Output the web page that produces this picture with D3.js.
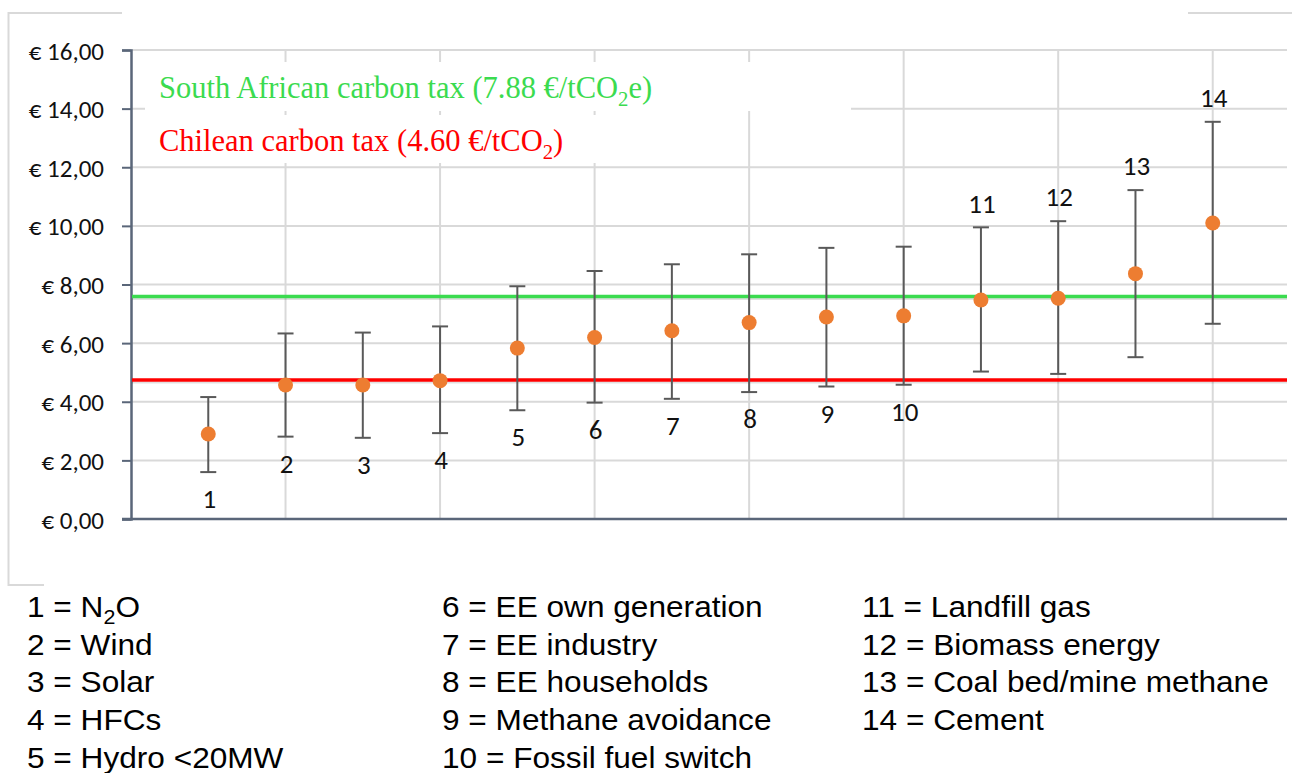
<!DOCTYPE html>
<html>
<head>
<meta charset="utf-8">
<script src="https://cdn.jsdelivr.net/npm/d3@7"></script>
<style>
  body { margin: 0; background: #fff; }
  svg { display: block; }
</style>
</head>
<body>
<svg id="chart" width="1292" height="773"></svg>
<script>
// project types, numbered 1..14 on the chart
var ids = [1, 2, 3, 4, 5, 6, 7, 8, 9, 10, 11, 12, 13, 14];
var categories = ["N₂O", "Wind", "Solar", "HFCs", "Hydro <20MW",
  "EE own generation", "EE industry", "EE households", "Methane avoidance", "Fossil fuel switch",
  "Landfill gas", "Biomass energy", "Coal bed/mine methane", "Cement"];

// central estimate and range (€/tCO2e)
var midValues = [2.90, 4.57, 4.57, 4.72, 5.83, 6.19, 6.42, 6.70, 6.89, 6.93, 7.47, 7.53, 8.37, 10.10];
var lowValues = [1.60, 2.81, 2.77, 2.93, 3.71, 3.97, 4.10, 4.33, 4.52, 4.58, 5.03, 4.95, 5.52, 6.66];
var highValues = [4.16, 6.33, 6.36, 6.57, 7.94, 8.46, 8.69, 9.03, 9.25, 9.29, 9.95, 10.16, 11.22, 13.55];
var labelSide = ["below", "below", "below", "below", "below", "below", "below", "below", "below", "below",
  "above", "above", "above", "above"];

// carbon tax reference lines
var taxLabels = ["South African carbon tax (7.88 €/tCO₂e)", "Chilean carbon tax (4.60 €/tCO₂)"];
var taxValues = [7.59, 4.74];
var taxColors = ["#3bdb4f", "#ff0000"];

var yTicks = [0, 2, 4, 6, 8, 10, 12, 14, 16];
var xGrid = [2, 4, 6, 8, 10, 12, 14];

var svg = d3.select("#chart");

var x = d3.scaleLinear().domain([0, 15]).range([131, 1290]);
var y = d3.scaleLinear().domain([0, 16]).range([519, 50]);
var plotRight = 1287;

// text with "₂" drawn as a real subscript
function richText(sel, str, size) {
  var parts = str.split("₂");
  parts.forEach(function (p, i) {
    if (i > 0) {
      sel.append("tspan").attr("dy", size * 0.25).attr("font-size", size * 0.68).text("2");
      sel.append("tspan").attr("dy", -size * 0.25).text(p);
    } else {
      sel.append("tspan").text(p);
    }
  });
}

// outer chart frame (partly hidden by other boxes in the original)
svg.append("rect")
  .attr("x", 8.5).attr("y", 13).attr("width", 1400).attr("height", 572)
  .attr("fill", "none").attr("stroke", "#d9d9d9").attr("stroke-width", 2);
svg.append("rect").attr("x", 122).attr("y", 0).attr("width", 1066).attr("height", 30).attr("fill", "#fff");

// gridlines
svg.append("g").selectAll("line").data(yTicks.slice(1)).join("line")
  .attr("x1", x(0)).attr("x2", plotRight)
  .attr("y1", function (d) { return y(d); }).attr("y2", function (d) { return y(d); })
  .attr("stroke", "#d9d9d9").attr("stroke-width", 2);
svg.append("g").selectAll("line").data(xGrid).join("line")
  .attr("x1", function (d) { return x(d); }).attr("x2", function (d) { return x(d); })
  .attr("y1", y(16)).attr("y2", y(0))
  .attr("stroke", "#d9d9d9").attr("stroke-width", 2);

// annotation boxes (white backgrounds hide the grid behind the text)
svg.append("rect").attr("x", 145).attr("y", 62).attr("width", 706).attr("height", 49).attr("fill", "#fff");
svg.append("rect").attr("x", 145).attr("y", 115).attr("width", 520).attr("height", 48).attr("fill", "#fff");
var taxTextY = [98, 151];
taxLabels.forEach(function (t, i) {
  var txt = svg.append("text")
    .attr("x", 159).attr("y", taxTextY[i])
    .attr("font-family", "'Liberation Serif', 'Times New Roman', serif")
    .attr("font-size", 30.5)
    .attr("fill", taxColors[i]);
  richText(txt, t, 30.5);
});

// axes
var yAxis = d3.axisLeft(y).tickValues(yTicks).tickSize(9)
  .tickFormat(function (d) { return "€ " + d3.format(".2f")(d).replace(".", ","); });
var gy = svg.append("g").attr("transform", "translate(" + x(0) + ",0)").call(yAxis);
gy.select(".domain").attr("stroke", "#5a6679").attr("stroke-width", 2.5);
gy.selectAll(".tick line").attr("stroke", "#5a6679").attr("stroke-width", 2);
gy.selectAll(".tick text")
  .attr("x", -27).attr("dy", "0.36em")
  .attr("font-family", "Carlito, Calibri, Lato, sans-serif")
  .attr("font-size", 25).attr("fill", "#111");

svg.append("line")
  .attr("x1", x(0) - 9).attr("x2", plotRight)
  .attr("y1", y(0)).attr("y2", y(0))
  .attr("stroke", "#5a6679").attr("stroke-width", 2.5);

// tax lines with a soft shadow
taxValues.forEach(function (v, i) {
  svg.append("line")
    .attr("x1", x(0) + 1).attr("x2", plotRight)
    .attr("y1", y(v) + 2.5).attr("y2", y(v) + 2.5)
    .attr("stroke", "#000").attr("stroke-opacity", 0.12).attr("stroke-width", 2);
  svg.append("line")
    .attr("x1", x(0) + 1).attr("x2", plotRight)
    .attr("y1", y(v)).attr("y2", y(v))
    .attr("stroke", taxColors[i]).attr("stroke-width", 3.5);
});

// error bars
var bars = svg.append("g").selectAll("g").data(ids).join("g");
bars.append("line")
  .attr("x1", function (d, i) { return x(d); }).attr("x2", function (d, i) { return x(d); })
  .attr("y1", function (d, i) { return y(lowValues[i]); })
  .attr("y2", function (d, i) { return y(highValues[i]); })
  .attr("stroke", "#595959").attr("stroke-width", 2);
bars.append("line")
  .attr("x1", function (d) { return x(d) - 8; }).attr("x2", function (d) { return x(d) + 8; })
  .attr("y1", function (d, i) { return y(lowValues[i]); })
  .attr("y2", function (d, i) { return y(lowValues[i]); })
  .attr("stroke", "#595959").attr("stroke-width", 2);
bars.append("line")
  .attr("x1", function (d) { return x(d) - 8; }).attr("x2", function (d) { return x(d) + 8; })
  .attr("y1", function (d, i) { return y(highValues[i]); })
  .attr("y2", function (d, i) { return y(highValues[i]); })
  .attr("stroke", "#595959").attr("stroke-width", 2);

// points
svg.append("g").selectAll("circle").data(ids).join("circle")
  .attr("cx", function (d) { return x(d); })
  .attr("cy", function (d, i) { return y(midValues[i]); })
  .attr("r", 7.5)
  .attr("fill", "#ed7d31");

// number labels
svg.append("g").selectAll("text").data(ids).join("text")
  .attr("x", function (d) { return x(d) + 1; })
  .attr("y", function (d, i) {
    return labelSide[i] === "below" ? y(lowValues[i]) + 27 : y(highValues[i]) - 24;
  })
  .attr("dy", "0.34em")
  .attr("text-anchor", "middle")
  .attr("font-family", "Carlito, Calibri, Lato, sans-serif")
  .attr("font-size", 27)
  .attr("fill", "#111")
  .text(function (d) { return d; });

// legend box below the chart
svg.append("rect").attr("x", 44).attr("y", 578).attr("width", 1260).attr("height", 200).attr("fill", "#fff");
var colX = [27, 442, 862];
var legend = svg.append("g").selectAll("text").data(ids).join("text")
  .attr("transform", function (d, i) {
    var col = Math.floor(i / 5), row = i % 5;
    return "translate(" + colX[col] + "," + (617 + row * 37.7) + ") scale(1.09,1)";
  })
  .attr("font-family", "'Liberation Sans', Arial, sans-serif")
  .attr("font-size", 29)
  .attr("fill", "#000");
legend.each(function (d, i) {
  richText(d3.select(this), d + " = " + categories[i], 29);
});
</script>
</body>
</html>
